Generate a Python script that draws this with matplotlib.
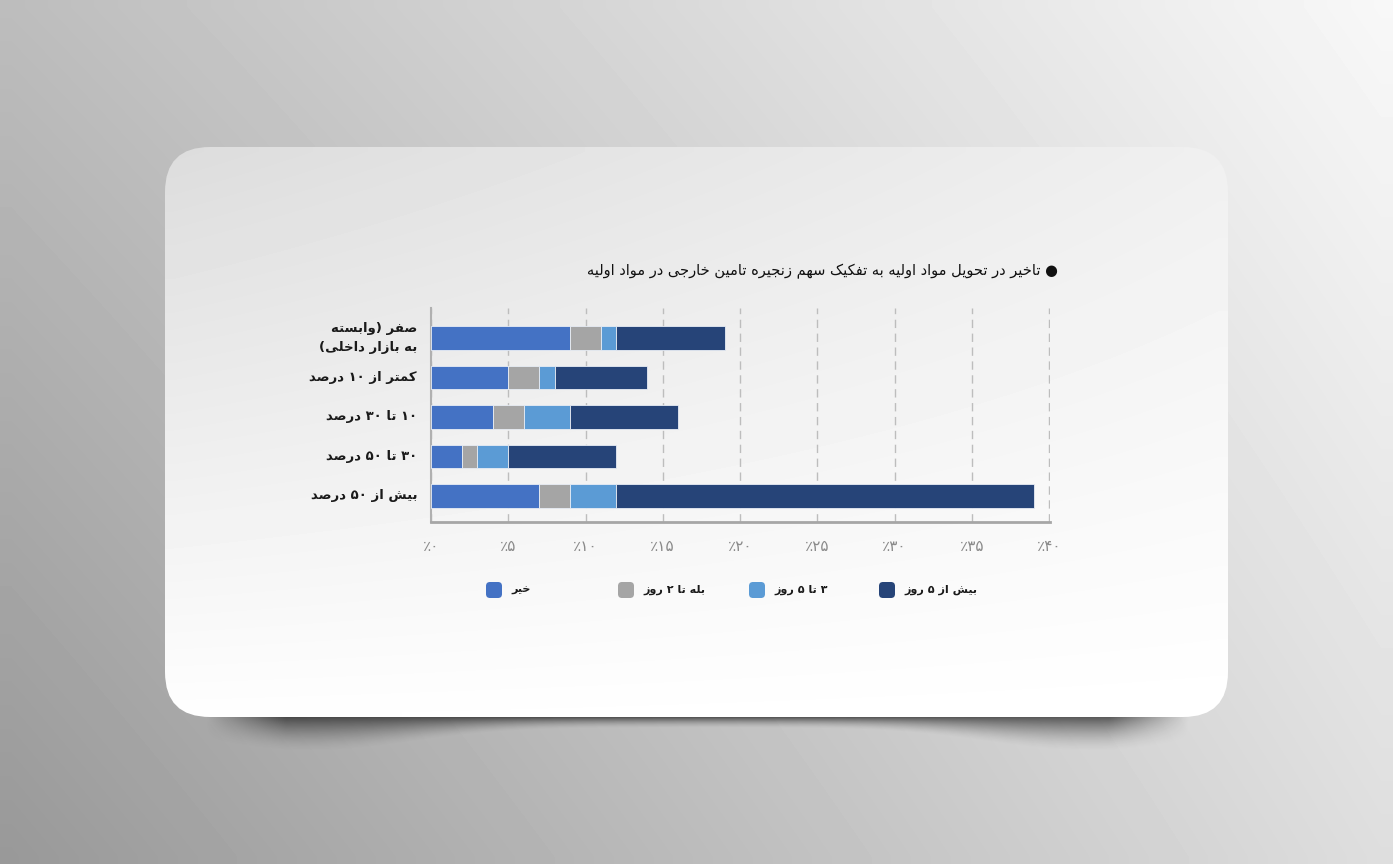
import re
import numpy as np
import matplotlib.pyplot as plt
from matplotlib.patches import FancyBboxPatch

# داده‌ها
categories = ['صفر (وابسته\nبه بازار داخلی)', 'کمتر از ۱۰ درصد', '۱۰ تا ۳۰ درصد',
              '۳۰ تا ۵۰ درصد', 'بیش از ۵۰ درصد']
series_names = ['خیر', 'بله تا ۲ روز', '۳ تا ۵ روز', 'بیش از ۵ روز']
no_delay = [9, 5, 4, 2, 7]
upto_2_days = [2, 2, 2, 1, 2]
days_3_to_5 = [1, 1, 3, 2, 3]
over_5_days = [7, 6, 7, 7, 27]
xticks = [0, 5, 10, 15, 20, 25, 30, 35, 40]
xtick_labels = ['٪۰', '٪۵', '٪۱۰', '٪۱۵', '٪۲۰', '٪۲۵', '٪۳۰', '٪۳۵', '٪۴۰']
title = 'تاخیر در تحویل مواد اولیه به تفکیک سهم زنجیره تامین خارجی در مواد اولیه'
colors = ['#4472C4', '#A5A5A5', '#5B9BD5', '#264478']

# matplotlib متن فارسی را شکل‌دهی نمی‌کند، پس دستی انجام می‌دهیم
FORMS = {
    'ا': (0xFE8D, 0xFE8E), 'د': (0xFEA9, 0xFEAA), 'ر': (0xFEAD, 0xFEAE),
    'ز': (0xFEAF, 0xFEB0), 'و': (0xFEED, 0xFEEE),
    'ب': (0xFE8F, 0xFE90, 0xFE91, 0xFE92), 'ت': (0xFE95, 0xFE96, 0xFE97, 0xFE98),
    'ج': (0xFE9D, 0xFE9E, 0xFE9F, 0xFEA0), 'ح': (0xFEA1, 0xFEA2, 0xFEA3, 0xFEA4),
    'خ': (0xFEA5, 0xFEA6, 0xFEA7, 0xFEA8), 'س': (0xFEB1, 0xFEB2, 0xFEB3, 0xFEB4),
    'ش': (0xFEB5, 0xFEB6, 0xFEB7, 0xFEB8), 'ص': (0xFEB9, 0xFEBA, 0xFEBB, 0xFEBC),
    'ف': (0xFED1, 0xFED2, 0xFED3, 0xFED4), 'ل': (0xFEDD, 0xFEDE, 0xFEDF, 0xFEE0),
    'م': (0xFEE1, 0xFEE2, 0xFEE3, 0xFEE4), 'ن': (0xFEE5, 0xFEE6, 0xFEE7, 0xFEE8),
    'ه': (0xFEE9, 0xFEEA, 0xFEEB, 0xFEEC),
    'ک': (0xFB8E, 0xFB8F, 0xFB90, 0xFB91), 'ك': (0xFB8E, 0xFB8F, 0xFB90, 0xFB91),
    'ی': (0xFBFC, 0xFBFD, 0xFBFE, 0xFBFF), 'ي': (0xFBFC, 0xFBFD, 0xFBFE, 0xFBFF),
}
MIRROR = {'(': ')', ')': '('}


def rtl_line(s):
    out = []
    for i, c in enumerate(s):
        if c not in FORMS:
            out.append(c)
            continue
        f = FORMS[c]
        prev = s[i - 1] if i > 0 else ''
        nxt = s[i + 1] if i + 1 < len(s) else ''
        pj = prev in FORMS and len(FORMS[prev]) == 4
        nj = nxt in FORMS and len(f) == 4
        if pj and nj:
            out.append(chr(f[3]))
        elif pj:
            out.append(chr(f[1]))
        elif nj:
            out.append(chr(f[2]))
        else:
            out.append(chr(f[0]))
    runs = re.findall(r'[0-9۰-۹]+|[^0-9۰-۹]', ''.join(out))
    runs.reverse()
    return ''.join(MIRROR.get(r, r) for r in runs)


def rtl(s):
    return '\n'.join(rtl_line(l) for l in s.split('\n'))


plt.rcParams['font.family'] = ['DejaVu Sans']

W, H = 1393, 864
fig = plt.figure(figsize=(W / 100, H / 100), dpi=100)

# پس‌زمینه
bg = fig.add_axes([0, 0, 1, 1])
bg.set_axis_off()
gy, gx = np.mgrid[0:1:60j, 0:1:60j]
grad = (0.74 * (1 - gx) * (1 - gy) + 0.97 * gx * (1 - gy)
        + 0.60 * (1 - gx) * gy + 0.87 * gx * gy)
bg.imshow(grad, cmap='gray', vmin=0, vmax=1, extent=(0, W, H, 0),
          interpolation='bilinear', aspect='auto')

# سایه زیر کارت
sx = np.linspace(165, 1228, 400)
sy = np.linspace(700, 775, 120)
depth = 11 + 24 * (np.exp(-((sx - 310) / 140) ** 2) + np.exp(-((sx - 1090) / 140) ** 2))
fade = np.clip((sx - 205) / 80, 0, 1) * np.clip((1190 - sx) / 80, 0, 1)
t = (sy[:, None] - 717) / depth[None, :]
alpha = 0.58 * np.clip(1 - t, 0, 1) ** 1.6 * fade[None, :]
shadow = np.zeros((len(sy), len(sx), 4))
shadow[..., 3] = alpha
bg.imshow(shadow, extent=(165, 1228, 775, 700), interpolation='bilinear', aspect='auto')

# کارت سفید
card = FancyBboxPatch((165, 147), 1063, 570, boxstyle='round,pad=0,rounding_size=45',
                      facecolor='none', edgecolor='none')
bg.add_patch(card)
cgrad = (0.865 * (1 - gx) * (1 - gy) + 0.94 * gx * (1 - gy)
         + 0.995 * (1 - gx) * gy + 1.0 * gx * gy)
im = bg.imshow(cgrad, cmap='gray', vmin=0, vmax=1, extent=(165, 1228, 717, 147),
               interpolation='bilinear', aspect='auto')
im.set_clip_path(card)
bg.set_xlim(0, W)
bg.set_ylim(H, 0)

# نمودار
ax = fig.add_axes([431 / W, 1 - 522 / H, (1050 - 431) / W, (522 - 308) / H])
ax.patch.set_alpha(0)
ax.set_axisbelow(True)
y = np.arange(len(categories))
left = np.zeros(len(categories))
for vals, col in zip([no_delay, upto_2_days, days_3_to_5, over_5_days], colors):
    ax.barh(y, vals, left=left, height=0.6, color=col, edgecolor='#e8edf5',
            linewidth=0.6, zorder=3)
    left += np.array(vals)

ax.set_xlim(0, 40.06)
ax.set_ylim(4.66, -0.76)
ax.set_xticks(xticks)
ax.set_xticklabels(xtick_labels, fontsize=11, color='#8a8a8a')
ax.set_yticks(y)
ax.set_yticklabels([rtl(c) for c in categories], fontsize=9.5, fontweight='bold',
                   color='#1a1a1a')
for lab in ax.get_yticklabels():
    lab.set_linespacing(1.6)
    lab.set_verticalalignment('center')
ax.tick_params(axis='x', length=0, pad=12)
ax.tick_params(axis='y', length=0, pad=10)
ax.grid(axis='x', color='#bdbdbd', linestyle=(0, (6, 4)), linewidth=1, zorder=0)
for side in ['top', 'right']:
    ax.spines[side].set_visible(False)
ax.spines['left'].set_color('#b0b0b0')
ax.spines['left'].set_linewidth(1.5)
ax.spines['bottom'].set_color('#a6a6a6')
ax.spines['bottom'].set_linewidth(2)

# عنوان
fig.text(1058 / W, 1 - 271 / H, rtl('● ' + title), ha='right', va='center',
         fontsize=10.5, color='#111111')

# راهنما
marker_x = [494, 626, 757, 887]
for name, col, mx in zip(series_names, colors, marker_x):
    box = FancyBboxPatch((mx - 8, 582), 16, 16, boxstyle='round,pad=0,rounding_size=4',
                         facecolor=col, edgecolor='none')
    bg.add_patch(box)
    fig.text((mx + 17) / W, 1 - 590 / H, rtl(name), ha='left', va='center',
             fontsize=8, fontweight='bold', color='#1a1a1a')

fig.savefig('out.png', dpi=100)
